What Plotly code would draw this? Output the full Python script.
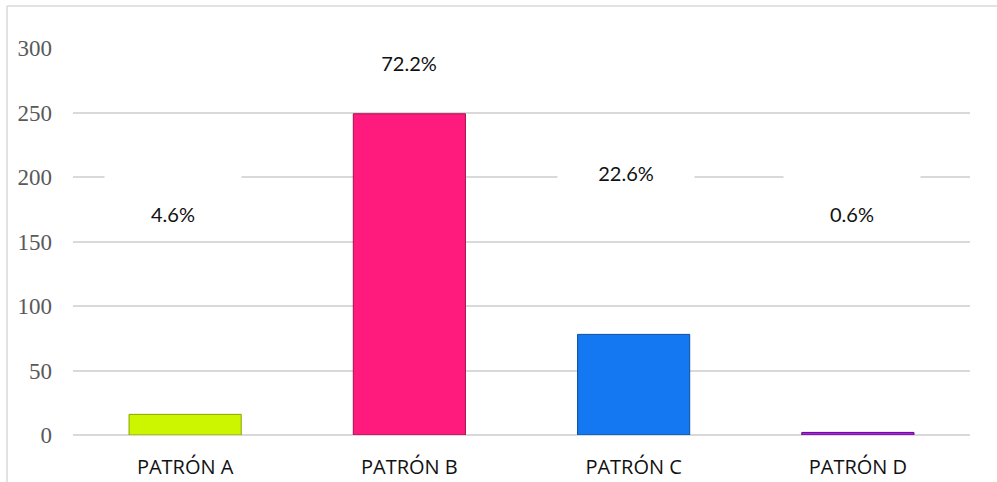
import plotly.graph_objects as go

categories = ["PATRÓN A", "PATRÓN B", "PATRÓN C", "PATRÓN D"]
values = [16, 249, 78, 2]
pct_labels = ["4.6%", "72.2%", "22.6%", "0.6%"]
label_y = [179, 296.5, 211, 179]
label_dx = [-12, 0, -8, -6]
colors = ["#CCF500", "#FF1A7E", "#1478F2", "#B51AF0"]
edge_colors = ["#8AA300", "#A8104F", "#0C4EA0", "#5A0A80"]

fig = go.Figure()
fig.add_trace(go.Bar(
    x=categories, y=values, width=0.5,
    marker=dict(color=colors, line=dict(color=edge_colors, width=1)),
    showlegend=False, hoverinfo="skip",
))

for c, t, ly, dx in zip(categories, pct_labels, label_y, label_dx):
    fig.add_annotation(
        x=c, y=ly, xref="x", yref="y", text=t, showarrow=False,
        bgcolor="white", width=120, height=44, borderpad=8,
        valign="bottom", xshift=dx,
        font=dict(family="Lato", size=20, color="#111111"),
    )

L, R, T, B = 73, 27, 48, 47
W, H = 997, 482
pw, ph = W - L - R, H - T - B
bx = (7 - L) / pw
by = 1 + (T - 6) / ph
fig.add_shape(type="line", xref="paper", yref="paper",
              x0=bx, x1=bx, y0=-B / ph - 0.01, y1=by,
              line=dict(color="#D9D9D9", width=1.5))
fig.add_shape(type="line", xref="paper", yref="paper",
              x0=bx, x1=1 + R / pw + 0.01, y0=by, y1=by,
              line=dict(color="#D9D9D9", width=1.5))

fig.update_layout(
    width=W, height=H,
    margin=dict(l=L, r=R, t=T, b=B),
    plot_bgcolor="white", paper_bgcolor="white",
    bargap=0.5,
    xaxis=dict(showgrid=False, showline=False, ticks="", automargin=False,
               tickfont=dict(family="Open Sans", size=20, color="#111111"),
               ticklabelstandoff=18),
    yaxis=dict(range=[0, 300], dtick=50, showgrid=True, gridcolor="#D9D9D9",
               gridwidth=1.5, zeroline=True, zerolinecolor="#D9D9D9",
               zerolinewidth=1.5, showline=False, ticks="", automargin=False,
               tickfont=dict(family="Liberation Serif", size=23, color="#595959"),
               ticklabelstandoff=20),
)

fig.write_html("out.html")
